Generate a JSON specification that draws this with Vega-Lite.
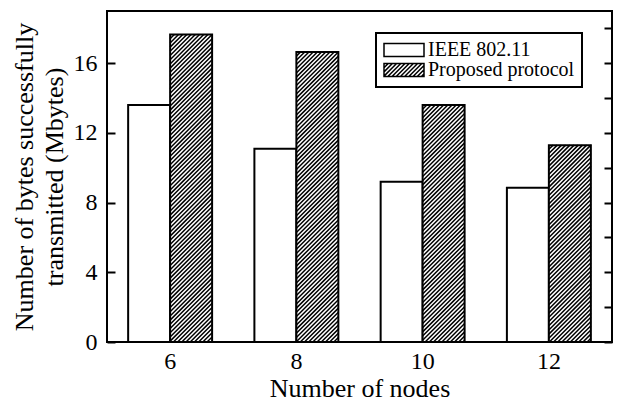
{
  "$schema": "https://vega.github.io/schema/vega-lite/v6.json",
  "width": 505,
  "height": 331,
  "autosize": "none",
  "padding": {"left": 107, "top": 11, "right": 6, "bottom": 59},
  "background": "white",
  "data": {
    "values": [
      {"nodes": 6, "protocol": "IEEE 802.11", "value": 13.6},
      {"nodes": 6, "protocol": "Proposed protocol", "value": 17.65},
      {"nodes": 8, "protocol": "IEEE 802.11", "value": 11.1},
      {"nodes": 8, "protocol": "Proposed protocol", "value": 16.65},
      {"nodes": 10, "protocol": "IEEE 802.11", "value": 9.2},
      {"nodes": 10, "protocol": "Proposed protocol", "value": 13.6},
      {"nodes": 12, "protocol": "IEEE 802.11", "value": 8.85},
      {"nodes": 12, "protocol": "Proposed protocol", "value": 11.3}
    ]
  },
  "resolve": {"axis": {"y": "independent"}},
  "layer": [
    {
      "mark": {"type": "bar", "stroke": "black", "strokeWidth": 2},
      "encoding": {
        "x": {
          "field": "nodes", "type": "ordinal",
          "scale": {"domain": [6, 8, 10, 12], "paddingInner": 0.335, "paddingOuter": 0.1675},
          "axis": {"title": "Number of nodes", "labelAngle": 0, "ticks": false, "labelPadding": 7, "titlePadding": 2}
        },
        "xOffset": {
          "field": "protocol", "type": "nominal",
          "scale": {"domain": ["IEEE 802.11", "Proposed protocol"], "paddingInner": 0, "paddingOuter": 0}
        },
        "y": {
          "field": "value", "type": "quantitative",
          "scale": {"domain": [0, 19], "nice": false, "zero": true},
          "axis": {"orient": "left", "title": ["Number of bytes successfully", "transmitted (Mbytes)"], "values": [0, 4, 8, 12, 16], "tickSize": -8, "labelPadding": 18, "titlePadding": 6}
        },
        "fill": {
          "field": "protocol", "type": "nominal",
          "scale": {"domain": ["IEEE 802.11", "Proposed protocol"], "range": ["white", "white"]},
          "legend": {
            "title": null,
            "orient": "none",
            "legendX": 269,
            "legendY": 22,
            "direction": "vertical",
            "symbolType": "M-20,-6.5H20V6.5H-20Z",
            "symbolSize": 4,
            "symbolStrokeColor": "black",
            "symbolOffset": 11,
            "labelOffset": 14,
            "labelFont": "Liberation Serif, Times New Roman, DejaVu Serif, serif",
            "labelFontSize": 20,
            "labelColor": "black",
            "padding": 7,
            "rowPadding": -5,
            "strokeColor": "black",
            "fillColor": "white",
            "encode": {
              "legend": {"update": {"strokeWidth": {"value": 2}}},
              "symbols": {
                "update": {
                  "shape": {"signal": "datum.value === 'Proposed protocol' ? 'M-20,-6.5H20V6.5H-20ZM-20,-2.3L-15.8,-6.5M-20,1.9L-11.6,-6.5M-20,6.1L-7.4,-6.5M-16.2,6.5L-3.2,-6.5M-12,6.5L1,-6.5M-7.8,6.5L5.2,-6.5M-3.6,6.5L9.4,-6.5M0.6,6.5L13.6,-6.5M4.8,6.5L17.8,-6.5M9,6.5L20,-4.5M13.2,6.5L20,-0.3M17.4,6.5L20,3.9' : 'M-20,-6.5H20V6.5H-20Z'"}
                }
              }
            }
          }
        }
      }
    },
    {
      "transform": [{"filter": "datum.protocol === 'Proposed protocol'"}],
      "mark": {"type": "point", "size": 4, "filled": false, "stroke": "black", "strokeWidth": 1.5, "opacity": 1},
      "encoding": {
        "x": {"field": "nodes", "type": "ordinal"},
        "xOffset": {"field": "protocol", "type": "nominal"},
        "y": {
          "field": "value", "type": "quantitative",
          "axis": {"orient": "right", "values": [0, 2, 4, 6, 8, 10, 12, 14, 16, 18], "labels": false, "tickSize": -8, "title": null}
        },
        "shape": {
          "field": "nodes", "type": "nominal",
          "scale": {
            "domain": [6, 8, 10, 12],
            "range": [
              "M-21,4.2l4.2,-4.2M-21,8.4l8.4,-8.4M-21,12.6l12.6,-12.6M-21,16.8l16.8,-16.8M-21,21l21,-21M-21,25.2l25.2,-25.2M-21,29.4l29.4,-29.4M-21,33.6l33.6,-33.6M-21,37.8l37.8,-37.8M-21,42l42,-42m-42,46.2l42,-42m-42,46.2l42,-42m-42,46.2l42,-42m-42,46.2l42,-42m-42,46.2l42,-42m-42,46.2l42,-42m-42,46.2l42,-42m-42,46.2l42,-42m-42,46.2l42,-42M-21,84l42,-42m-42,46.2l42,-42m-42,46.2l42,-42m-42,46.2l42,-42m-42,46.2l42,-42m-42,46.2l42,-42m-42,46.2l42,-42m-42,46.2l42,-42m-42,46.2l42,-42m-42,46.2l42,-42M-21,126l42,-42m-42,46.2l42,-42m-42,46.2l42,-42m-42,46.2l42,-42m-42,46.2l42,-42m-42,46.2l42,-42m-42,46.2l42,-42m-42,46.2l42,-42m-42,46.2l42,-42m-42,46.2l42,-42M-21,168l42,-42m-42,46.2l42,-42m-42,46.2l42,-42m-42,46.2l42,-42m-42,46.2l42,-42m-42,46.2l42,-42m-42,46.2l42,-42m-42,46.2l42,-42m-42,46.2l42,-42m-42,46.2l42,-42M-21,210l42,-42m-42,46.2l42,-42m-42,46.2l42,-42m-42,46.2l42,-42m-42,46.2l42,-42m-42,46.2l42,-42m-42,46.2l42,-42m-42,46.2l42,-42m-42,46.2l42,-42m-42,46.2l42,-42M-21,252l42,-42m-42,46.2l42,-42m-42,46.2l42,-42m-42,46.2l42,-42m-42,46.2l42,-42m-42,46.2l42,-42m-42,46.2l42,-42m-42,46.2l42,-42m-42,46.2l42,-42m-42,46.2l42,-42M-21,294l42,-42m-42,46.2l42,-42m-42,46.2l42,-42m-42,46.2l42,-42M-17.7,307.5l38.7,-38.7M-13.5,307.5l34.5,-34.5M-9.3,307.5l30.3,-30.3M-5.1,307.5l26.1,-26.1M-0.9,307.5l21.9,-21.9M3.3,307.5l17.7,-17.7M7.5,307.5l13.5,-13.5M11.7,307.5l9.3,-9.3M15.9,307.5l5.1,-5.1M20.1,307.5l0.9,-0.9",
              "M-21,4.2l4.2,-4.2M-21,8.4l8.4,-8.4M-21,12.6l12.6,-12.6M-21,16.8l16.8,-16.8M-21,21l21,-21M-21,25.2l25.2,-25.2M-21,29.4l29.4,-29.4M-21,33.6l33.6,-33.6M-21,37.8l37.8,-37.8M-21,42l42,-42m-42,46.2l42,-42m-42,46.2l42,-42m-42,46.2l42,-42m-42,46.2l42,-42m-42,46.2l42,-42m-42,46.2l42,-42m-42,46.2l42,-42m-42,46.2l42,-42m-42,46.2l42,-42M-21,84l42,-42m-42,46.2l42,-42m-42,46.2l42,-42m-42,46.2l42,-42m-42,46.2l42,-42m-42,46.2l42,-42m-42,46.2l42,-42m-42,46.2l42,-42m-42,46.2l42,-42m-42,46.2l42,-42M-21,126l42,-42m-42,46.2l42,-42m-42,46.2l42,-42m-42,46.2l42,-42m-42,46.2l42,-42m-42,46.2l42,-42m-42,46.2l42,-42m-42,46.2l42,-42m-42,46.2l42,-42m-42,46.2l42,-42M-21,168l42,-42m-42,46.2l42,-42m-42,46.2l42,-42m-42,46.2l42,-42m-42,46.2l42,-42m-42,46.2l42,-42m-42,46.2l42,-42m-42,46.2l42,-42m-42,46.2l42,-42m-42,46.2l42,-42M-21,210l42,-42m-42,46.2l42,-42m-42,46.2l42,-42m-42,46.2l42,-42m-42,46.2l42,-42m-42,46.2l42,-42m-42,46.2l42,-42m-42,46.2l42,-42m-42,46.2l42,-42m-42,46.2l42,-42M-21,252l42,-42m-42,46.2l42,-42m-42,46.2l42,-42m-42,46.2l42,-42m-42,46.2l42,-42m-42,46.2l42,-42m-42,46.2l42,-42m-42,46.2l42,-42m-42,46.2l42,-42m-42,46.2l42,-42M-17.1,290.1l38.1,-38.1M-12.9,290.1l33.9,-33.9M-8.7,290.1l29.7,-29.7M-4.5,290.1l25.5,-25.5M-0.3,290.1l21.3,-21.3M3.9,290.1l17.1,-17.1M8.1,290.1l12.9,-12.9M12.3,290.1l8.7,-8.7M16.5,290.1l4.5,-4.5M20.7,290.1l0.3,-0.3",
              "M-21,4.2l4.2,-4.2M-21,8.4l8.4,-8.4M-21,12.6l12.6,-12.6M-21,16.8l16.8,-16.8M-21,21l21,-21M-21,25.2l25.2,-25.2M-21,29.4l29.4,-29.4M-21,33.6l33.6,-33.6M-21,37.8l37.8,-37.8M-21,42l42,-42m-42,46.2l42,-42m-42,46.2l42,-42m-42,46.2l42,-42m-42,46.2l42,-42m-42,46.2l42,-42m-42,46.2l42,-42m-42,46.2l42,-42m-42,46.2l42,-42m-42,46.2l42,-42M-21,84l42,-42m-42,46.2l42,-42m-42,46.2l42,-42m-42,46.2l42,-42m-42,46.2l42,-42m-42,46.2l42,-42m-42,46.2l42,-42m-42,46.2l42,-42m-42,46.2l42,-42m-42,46.2l42,-42M-21,126l42,-42m-42,46.2l42,-42m-42,46.2l42,-42m-42,46.2l42,-42m-42,46.2l42,-42m-42,46.2l42,-42m-42,46.2l42,-42m-42,46.2l42,-42m-42,46.2l42,-42m-42,46.2l42,-42M-21,168l42,-42m-42,46.2l42,-42m-42,46.2l42,-42m-42,46.2l42,-42m-42,46.2l42,-42m-42,46.2l42,-42m-42,46.2l42,-42m-42,46.2l42,-42m-42,46.2l42,-42m-42,46.2l42,-42M-21,210l42,-42m-42,46.2l42,-42m-42,46.2l42,-42m-42,46.2l42,-42m-42,46.2l42,-42m-42,46.2l42,-42m-42,46.2l42,-42M-18.5,236.9l39.5,-39.5M-14.3,236.9l35.3,-35.3M-10.1,236.9l31.1,-31.1M-5.9,236.9l26.9,-26.9M-1.7,236.9l22.7,-22.7M2.5,236.9l18.5,-18.5M6.7,236.9l14.3,-14.3M10.9,236.9l10.1,-10.1M15.1,236.9l5.9,-5.9M19.3,236.9l1.7,-1.7",
              "M-21,4.2l4.2,-4.2M-21,8.4l8.4,-8.4M-21,12.6l12.6,-12.6M-21,16.8l16.8,-16.8M-21,21l21,-21M-21,25.2l25.2,-25.2M-21,29.4l29.4,-29.4M-21,33.6l33.6,-33.6M-21,37.8l37.8,-37.8M-21,42l42,-42m-42,46.2l42,-42m-42,46.2l42,-42m-42,46.2l42,-42m-42,46.2l42,-42m-42,46.2l42,-42m-42,46.2l42,-42m-42,46.2l42,-42m-42,46.2l42,-42m-42,46.2l42,-42M-21,84l42,-42m-42,46.2l42,-42m-42,46.2l42,-42m-42,46.2l42,-42m-42,46.2l42,-42m-42,46.2l42,-42m-42,46.2l42,-42m-42,46.2l42,-42m-42,46.2l42,-42m-42,46.2l42,-42M-21,126l42,-42m-42,46.2l42,-42m-42,46.2l42,-42m-42,46.2l42,-42m-42,46.2l42,-42m-42,46.2l42,-42m-42,46.2l42,-42m-42,46.2l42,-42m-42,46.2l42,-42m-42,46.2l42,-42M-21,168l42,-42m-42,46.2l42,-42m-42,46.2l42,-42m-42,46.2l42,-42m-42,46.2l42,-42m-42,46.2l42,-42m-42,46.2l42,-42M-20.5,196.9l41.5,-41.5M-16.3,196.9l37.3,-37.3M-12.1,196.9l33.1,-33.1M-7.9,196.9l28.9,-28.9M-3.7,196.9l24.7,-24.7M0.5,196.9l20.5,-20.5M4.7,196.9l16.3,-16.3M8.9,196.9l12.1,-12.1M13.1,196.9l7.9,-7.9M17.3,196.9l3.7,-3.7"
            ]
          },
          "legend": null
        }
      }
    }
  ],
  "config": {
    "view": {"stroke": "black", "strokeWidth": 2},
    "font": "Liberation Serif, Times New Roman, DejaVu Serif, serif",
    "legend": {"rowPadding": -5},
    "axis": {
      "labelFont": "Liberation Serif, Times New Roman, DejaVu Serif, serif",
      "labelFontSize": 24,
      "labelColor": "black",
      "titleFont": "Liberation Serif, Times New Roman, DejaVu Serif, serif",
      "titleFontSize": 26,
      "titleFontWeight": "normal",
      "titleColor": "black",
      "titleLineHeight": 30,
      "grid": false,
      "domain": false,
      "tickColor": "black",
      "tickWidth": 2
    }
  }
}
